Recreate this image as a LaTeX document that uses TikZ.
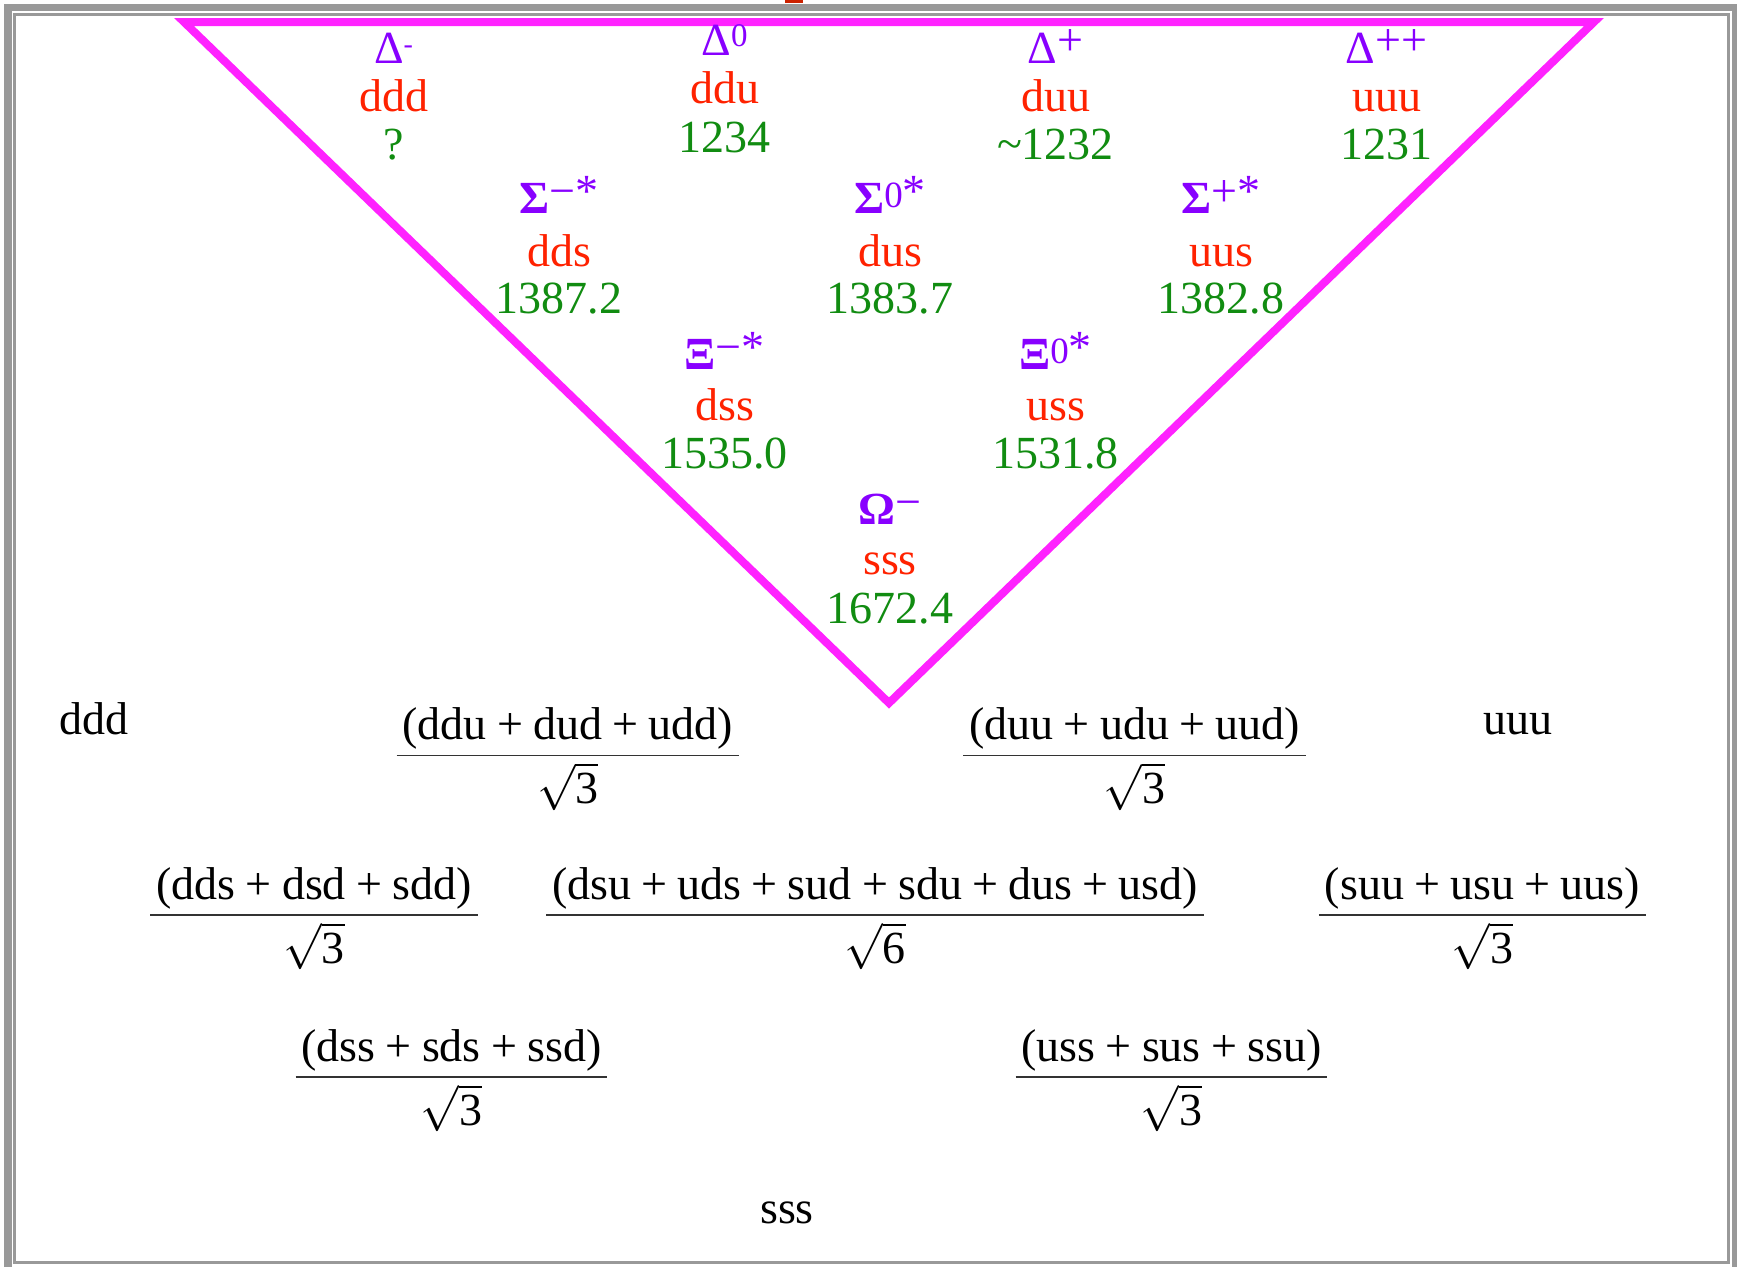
\RequirePackage{fix-cm}
\documentclass[tikz,border=0pt]{standalone}
\usepackage{fontspec}
\setmainfont{Liberation Serif}
\usetikzlibrary{calc}
\definecolor{pur}{HTML}{8800FF}
\definecolor{qred}{HTML}{FF2200}
\definecolor{grn}{HTML}{118C11}
\definecolor{mag}{HTML}{FF22FF}
\definecolor{frm}{HTML}{999999}
\definecolor{sliver}{HTML}{CC2200}
\newcommand{\pl}{\hspace{0.222em}+\hspace{0.222em}}
\newcommand{\hsup}{\raisebox{10pt}{\fontsize{28}{28}\selectfont -}}
\newcommand{\osup}{\raisebox{9pt}{\fontsize{33}{33}\selectfont 0}}
\newcommand{\psup}[1]{\raisebox{8pt}{#1}}
\newcommand{\ssup}[1]{\raisebox{7pt}{#1}}
\newcommand{\zsup}{\raisebox{6pt}{\fontsize{37}{37}\selectfont 0}}
\newcommand{\rt}[1]{$\sqrt{\mbox{#1}}$}
\begin{document}
\begin{tikzpicture}[x=1pt,y=-1pt,
  every node/.style={inner sep=0pt,outer sep=0pt,font=\fontsize{46}{50}\selectfont,anchor=base},
  sym/.style={text=pur},
  qk/.style={text=qred},
  ms/.style={text=grn},
  blk/.style={text=black},
  barline/.style={draw=black!80,line width=1.8pt}]
\useasboundingbox (0,0) rectangle (1737,1266);
% frame
\fill[frm] (4,4) rectangle (1745,1275);
\fill[white] (12,11) rectangle (1732,1270);
\draw[frm,line width=3pt] (14.5,14) rectangle (1728.5,1262);
\fill[sliver] (785,0) rectangle (803,2.5);
% triangle
\coordinate (tl) at (184,22);
\coordinate (tr) at (1594,22);
\coordinate (bt) at (889,703);
\draw[mag,line width=8pt,line join=miter] (tl) -- (tr) -- (bt) -- cycle;
% row 1: Delta
\node[sym] (dms) at (393.5,63) {Δ\hsup};
\node[qk]  (dmq) at (393.5,111) {ddd};
\node[ms]  (dmm) at (393.5,159) {?};
\node[sym] (dzs) at (724.5,55) {Δ\osup};
\node[qk]  (dzq) at (724.5,103) {ddu};
\node[ms]  (dzm) at (724.5,152) {1234};
\node[sym] (dps) at (1055.5,63) {Δ\psup{+}};
\node[qk]  (dpq) at (1055.5,111) {duu};
\node[ms]  (dpm) at (1055.5,159) {\textasciitilde 1232};
\node[sym] (dpps) at (1386.5,63) {Δ\psup{++}};
\node[qk]  (dppq) at (1386.5,111) {uuu};
\node[ms]  (dppm) at (1386.5,159) {1231};
% row 2: Sigma*
\node[sym] (sms) at (559,213) {\textbf{Σ}\ssup{−*}};
\node[qk]  (smq) at (559,266) {dds};
\node[ms]  (smm) at (559,313) {1387.2};
\node[sym] (szs) at (890,213) {\textbf{Σ}\zsup\ssup{*}};
\node[qk]  (szq) at (890,266) {dus};
\node[ms]  (szm) at (890,313) {1383.7};
\node[sym] (sps) at (1221,213) {\textbf{Σ}\ssup{+*}};
\node[qk]  (spq) at (1221,266) {uus};
\node[ms]  (spm) at (1221,313) {1382.8};
% row 3: Xi*
\node[sym] (xms) at (724.5,369) {\textbf{Ξ}\ssup{−*}};
\node[qk]  (xmq) at (724.5,420) {dss};
\node[ms]  (xmm) at (724.5,468) {1535.0};
\node[sym] (xzs) at (1055.5,369) {\textbf{Ξ}\zsup\ssup{*}};
\node[qk]  (xzq) at (1055.5,420) {uss};
\node[ms]  (xzm) at (1055.5,468) {1531.8};
% row 4: Omega
\node[sym] (oms) at (890,524) {\textbf{Ω}\ssup{−}};
\node[qk]  (omq) at (890,574) {sss};
\node[ms]  (omm) at (890,623) {1672.4};
% bottom: flavour wave functions
\node[blk] (wddd) at (94,734) {ddd};
\node[blk] (wuuu) at (1518,734) {uuu};
\node[blk] (wsss) at (787,1223) {sss};
% fractions
\node[blk] (f1n) at (567.8,739.5) {(ddu\pl dud\pl udd)};
\draw[barline] ($(f1n.base west)+(-6,16)$) -- ($(f1n.base east)+(6,16)$);
\node[blk] (f1d) at (567.8,803.5) {\rt{3}};
\node[blk] (f2n) at (1134.5,739.5) {(duu\pl udu\pl uud)};
\draw[barline] ($(f2n.base west)+(-6,16)$) -- ($(f2n.base east)+(6,16)$);
\node[blk] (f2d) at (1134.5,803.5) {\rt{3}};
\node[blk] (f3n) at (314,899) {(dds\pl dsd\pl sdd)};
\draw[barline] ($(f3n.base west)+(-6,16)$) -- ($(f3n.base east)+(6,16)$);
\node[blk] (f3d) at (314,963) {\rt{3}};
\node[blk] (f4n) at (875,899) {(dsu\pl uds\pl sud\pl sdu\pl dus\pl usd)};
\draw[barline] ($(f4n.base west)+(-6,16)$) -- ($(f4n.base east)+(6,16)$);
\node[blk] (f4d) at (875,963) {\rt{6}};
\node[blk] (f5n) at (1482.5,899) {(suu\pl usu\pl uus)};
\draw[barline] ($(f5n.base west)+(-6,16)$) -- ($(f5n.base east)+(6,16)$);
\node[blk] (f5d) at (1482.5,963) {\rt{3}};
\node[blk] (f6n) at (451.5,1061) {(dss\pl sds\pl ssd)};
\draw[barline] ($(f6n.base west)+(-6,16)$) -- ($(f6n.base east)+(6,16)$);
\node[blk] (f6d) at (451.5,1125) {\rt{3}};
\node[blk] (f7n) at (1171.5,1061) {(uss\pl sus\pl ssu)};
\draw[barline] ($(f7n.base west)+(-6,16)$) -- ($(f7n.base east)+(6,16)$);
\node[blk] (f7d) at (1171.5,1125) {\rt{3}};
\end{tikzpicture}
\end{document}
